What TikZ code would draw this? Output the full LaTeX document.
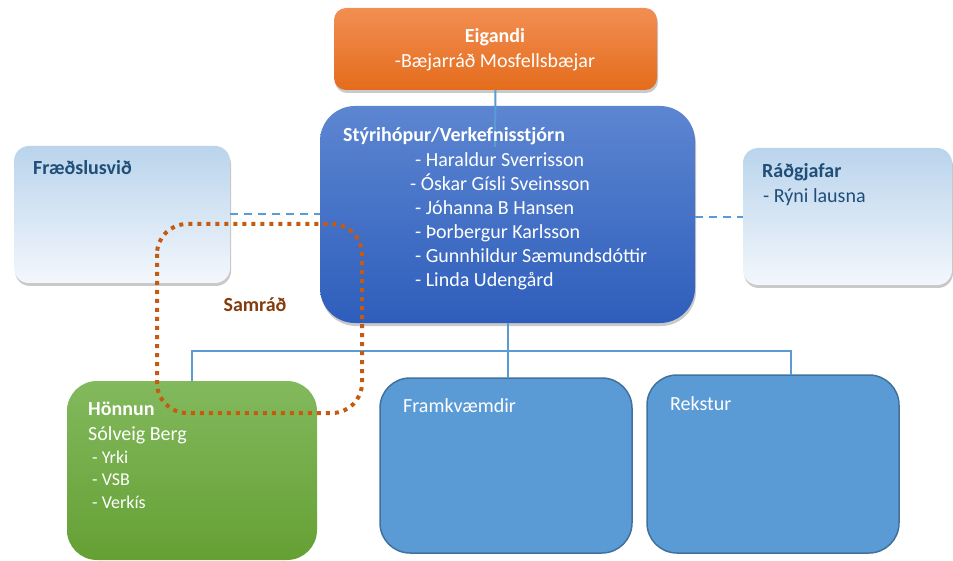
\documentclass[tikz,border=0pt]{standalone}
\usepackage{fontspec}
\setmainfont{Carlito}
\usetikzlibrary{shadows}
\definecolor{orTop}{HTML}{F28E52}
\definecolor{orBot}{HTML}{E46C1C}
\definecolor{bTop}{HTML}{5D86D1}
\definecolor{bBot}{HTML}{2E5EBC}
\definecolor{lTop}{HTML}{BAD4EC}
\definecolor{lBot}{HTML}{F3F7FC}
\definecolor{gTop}{HTML}{82B95D}
\definecolor{gBot}{HTML}{65A034}
\definecolor{midFill}{HTML}{5B9BD5}
\definecolor{midLine}{HTML}{41719C}
\definecolor{connC}{HTML}{5B9BD5}
\definecolor{dotC}{HTML}{C55A11}
\definecolor{darkBlue}{HTML}{1F4E79}
\definecolor{brownC}{HTML}{843C0C}
\tikzset{
  box/.style={rectangle, anchor=north west, inner sep=0pt, outer sep=0pt},
  shad/.style={drop shadow={shadow xshift=1pt, shadow yshift=-3pt, opacity=0.3, fill=black!70}},
  txt/.style={anchor=base west, inner sep=0pt, font=\fontsize{20}{24}\selectfont},
  txtc/.style={anchor=base, inner sep=0pt, font=\fontsize{20}{24}\selectfont},
  bold/.style={font=\fontsize{20}{24}\selectfont\bfseries},
  small/.style={anchor=base west, inner sep=0pt, font=\fontsize{18}{22}\selectfont},
  conn/.style={draw=connC, line width=2pt},
  dashconn/.style={draw=connC, line width=2pt, dash pattern=on 8pt off 6pt},
  dotline/.style={draw=dotC, line width=4pt, dash pattern=on 4pt off 5pt, rounded corners=30pt}
}
\begin{document}
\begin{tikzpicture}[x=1pt, y=-1pt]
\useasboundingbox (0,0) rectangle (953,561);

% boxes
\node[box, shad, rounded corners=12pt, top color=orTop, bottom color=orBot,
  minimum width=323pt, minimum height=82pt] (eig) at (334,8) {};
\node[box, shad, rounded corners=15pt, top color=lTop, bottom color=lBot,
  minimum width=216pt, minimum height=137pt] (fra) at (14,146) {};
\node[box, shad, rounded corners=15pt, top color=lTop, bottom color=lBot,
  minimum width=209pt, minimum height=137pt] (rad) at (743,148) {};
\node[box, shad, rounded corners=35pt, top color=bTop, bottom color=bBot,
  minimum width=375pt, minimum height=217pt] (sty) at (320,106) {};
\node[box, rounded corners=30pt, top color=gTop, bottom color=gBot,
  minimum width=250pt, minimum height=179pt] (hon) at (67,381) {};
\node[box, rounded corners=30pt, fill=midFill, draw=midLine, line width=1.5pt,
  minimum width=252pt, minimum height=175pt] (fram) at (380,378) {};
\node[box, rounded corners=30pt, fill=midFill, draw=midLine, line width=1.5pt,
  minimum width=252pt, minimum height=178pt] (rek) at (647,375) {};

% connectors
\coordinate (eigEnd) at (495,147);
\coordinate (hub) at (507,351);
\coordinate (rekIn) at (791,375);
\coordinate (dlL) at (0,214);
\coordinate (dlR) at (0,217);
\draw[conn] (eig.south) -- (eigEnd);
\draw[conn] (sty.south) -- (sty.south |- fram.north);
\draw[conn] (hon.north) |- (hub) -| (rekIn);
\draw[dashconn] (dlL -| fra.east) -- (dlL -| sty.west);
\draw[dashconn] (dlR -| sty.east) -- (dlR -| rad.west);

% texts
\node[txtc, bold, text=white] (eigT) at (495,43) {Eigandi};
\node[txtc, text=white] (eigS) at (495,68) {-Bæjarráð Mosfellsbæjar};

\node[txt, bold, text=white] (styT) at (343,142) {Stýrihópur/Verkefnisstjórn};
\node[txt, text=white] (s1) at (415,166.5) {- Haraldur Sverrisson};
\node[txt, text=white] (s2) at (410,190.5) {- Óskar Gísli Sveinsson};
\node[txt, text=white] (s3) at (415,214.5) {- Jóhanna B Hansen};
\node[txt, text=white] (s4) at (415,238.5) {- Þorbergur Karlsson};
\node[txt, text=white] (s5) at (415,263) {- Gunnhildur Sæmundsdóttir};
\node[txt, text=white] (s6) at (415,287) {- Linda Udengård};

\node[txt, bold, text=darkBlue] (fraT) at (33,175) {Fræðslusvið};
\node[txt, bold, text=darkBlue] (radT) at (762,178) {Ráðgjafar};
\node[txt, text=darkBlue] (radS) at (763,203) {- Rýni lausna};

\node[txtc, bold, text=brownC] (sam) at (255,312) {Samráð};

\node[txt, bold, text=white] (honT) at (88,415) {Hönnun};
\node[txt, text=white] (honS) at (88,440) {Sólveig Berg};
\node[small, text=white] (h1) at (92,463) {- Yrki};
\node[small, text=white] (h2) at (92,485.5) {- VSB};
\node[small, text=white] (h3) at (92,508) {- Verkís};

\node[txt, text=white] (framT) at (403,412) {Framkvæmdir};
\node[txt, text=white] (rekT) at (670,410) {Rekstur};

% dotted consultation frame
\draw[dotline] (157,224) rectangle (362,413);
\end{tikzpicture}
\end{document}
